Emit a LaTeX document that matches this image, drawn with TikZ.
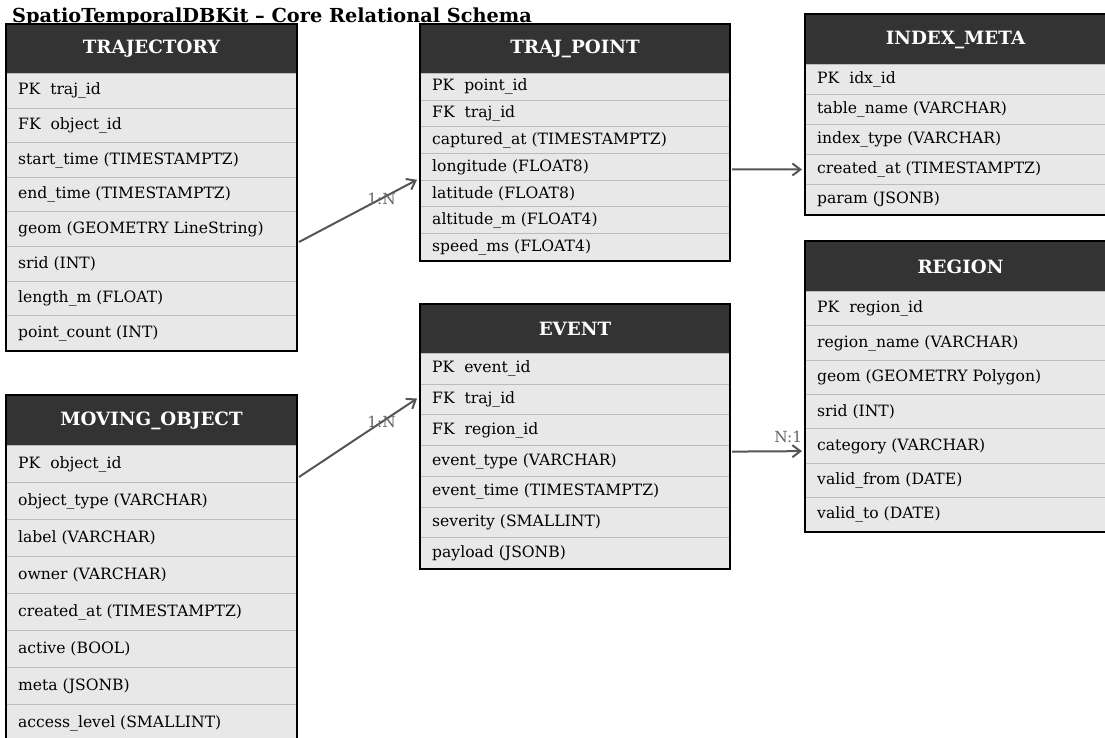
\documentclass[tikz,border=0pt]{standalone}
\usepackage{fontspec}
\setmainfont{DejaVu Serif}
\usetikzlibrary{arrows.meta}

\definecolor{headfill}{HTML}{333333}
\definecolor{rowfill}{HTML}{E8E8E8}
\definecolor{rowline}{HTML}{BBBBBB}
\definecolor{relgray}{HTML}{555555}
\definecolor{cardgray}{HTML}{666666}

\tikzset{
  tblhead/.style={draw=black, line width=1pt, fill=headfill, text=white,
    font=\fontsize{18.3}{22}\selectfont\bfseries, inner sep=0pt},
  tblrow/.style={draw=rowline, line width=1pt, fill=rowfill, inner sep=0pt},
  rowtext/.style={font=\fontsize{15.6}{18}\selectfont, inner sep=0pt, anchor=west},
  tblborder/.style={draw=black, line width=1.5pt},
  rel/.style={draw=relgray, line width=2pt, -{Straight Barb[length=8pt,width=12pt]}},
  card/.style={font=\fontsize{15.3}{18}\selectfont, text=cardgray, inner sep=1pt},
  titletext/.style={font=\fontsize{19.3}{22}\selectfont\bfseries, inner sep=0pt}
}

% #1 name, #2 title, #3 left, #4 top, #5 width, #6 head height, #7 row height, #8 rows
\newcommand{\dbtable}[8]{%
  \node[tblhead, anchor=north west, minimum width=#5pt, minimum height=#6pt] (#1) at (#3,#4) {#2};
  \foreach \r [count=\i] in {#8} {
    \node[tblrow, anchor=north west, minimum width=#5pt, minimum height=#7pt]
      (#1-\i) at (#3,{#4+#6+(\i-1)*#7}) {};
    \node[rowtext] at ([xshift=12pt]#1-\i.west) {\r};
    \global\let\nrows\i
  }
  \draw[tblborder] (#1.north west) rectangle (#1-\nrows.south east);
}

\begin{document}
\begin{tikzpicture}[x=1pt, y=-1pt]
  \useasboundingbox (0,0) rectangle (1105,738);

  \node[titletext, anchor=base west] (title) at (12,23) {SpatioTemporalDBKit – Core Relational Schema};

  % tables
  \dbtable{traj}{TRAJECTORY}{6}{24}{290}{49}{34.6}{PK~~traj\_id, FK~~object\_id,
    start\_time (TIMESTAMPTZ), end\_time (TIMESTAMPTZ), geom (GEOMETRY LineString),
    srid (INT), length\_m (FLOAT), point\_count (INT)}
  \dbtable{tpoint}{TRAJ\_POINT}{420}{24}{309}{49}{26.7}{PK~~point\_id, FK~~traj\_id,
    captured\_at (TIMESTAMPTZ), longitude (FLOAT8), latitude (FLOAT8),
    altitude\_m (FLOAT4), speed\_ms (FLOAT4)}
  \dbtable{imeta}{INDEX\_META}{805}{14}{300}{50}{30}{PK~~idx\_id, table\_name (VARCHAR),
    index\_type (VARCHAR), created\_at (TIMESTAMPTZ), param (JSONB)}
  \dbtable{region}{REGION}{805}{241}{310}{50}{34.3}{PK~~region\_id, region\_name (VARCHAR),
    geom (GEOMETRY Polygon), srid (INT), category (VARCHAR), valid\_from (DATE),
    valid\_to (DATE)}
  \dbtable{event}{EVENT}{420}{304}{309}{49}{30.7}{PK~~event\_id, FK~~traj\_id,
    FK~~region\_id, event\_type (VARCHAR), event\_time (TIMESTAMPTZ),
    severity (SMALLINT), payload (JSONB)}
  \dbtable{mobj}{MOVING\_OBJECT}{6}{395}{290}{50}{37}{PK~~object\_id,
    object\_type (VARCHAR), label (VARCHAR), owner (VARCHAR),
    created\_at (TIMESTAMPTZ), active (BOOL), meta (JSONB), access\_level (SMALLINT)}

  % relations
  \draw[rel] ([xshift=2pt,yshift=5pt]traj-5.south east)
    -- node[card, pos=0.7] {1:N} ([xshift=-3pt]tpoint-5.north west);
  \draw[rel] ([xshift=2pt,yshift=6pt]mobj-1.south east)
    -- node[card, pos=0.7] {1:N} ([xshift=-3pt,yshift=1pt]event-2.west);
  \draw[rel] ([xshift=2pt,yshift=-2.5pt]tpoint-4.east) -- ([xshift=-3pt]imeta-4.west);
  \draw[rel] ([xshift=2pt,yshift=-5.5pt]event-3.south east)
    -- node[card, pos=1, anchor=south east, yshift=6pt, xshift=2pt] {N:1}
    ([xshift=-3pt,yshift=-5.3pt]region-5.west);
\end{tikzpicture}
\end{document}
